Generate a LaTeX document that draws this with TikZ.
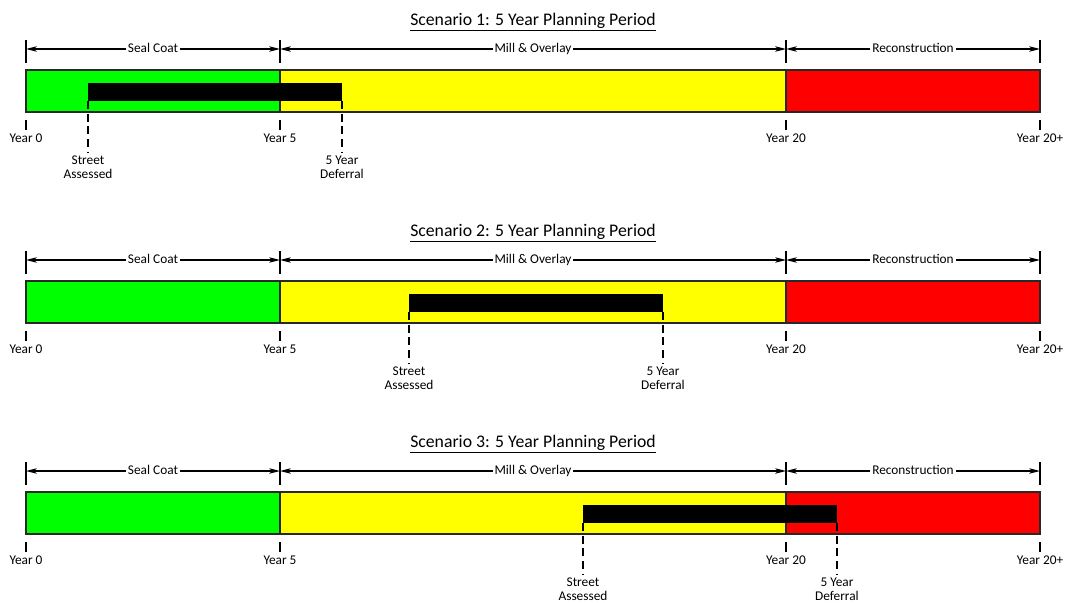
\documentclass[tikz,border=0pt]{standalone}
\usepackage{fontspec}
\setmainfont{Carlito}
\usetikzlibrary{arrows.meta}
\definecolor{sealgreen}{RGB}{0,255,0}
\definecolor{millyellow}{RGB}{255,255,0}
\definecolor{reconred}{RGB}{255,0,0}
\definecolor{outline}{RGB}{40,40,40}
\begin{document}
\begin{tikzpicture}[x=0.75pt,y=-0.75pt,
  lbl/.style={font=\fontsize{10}{10.5}\selectfont, inner sep=1pt},
  dimlbl/.style={lbl, fill=white, inner xsep=1.5pt, text height=1.5ex, text depth=0.35ex},
  ttl/.style={font=\fontsize{13.3}{14}\selectfont, inner sep=0pt},
  dim/.style={line width=1.1pt, {Stealth[length=8pt,width=4pt,inset=2pt]}-{Stealth[length=8pt,width=4pt,inset=2pt]}},
  tickline/.style={line width=1.1pt},
  seg/.style={draw=outline, line width=1.1pt},
  defer/.style={fill=black},
  dashedline/.style={line width=1pt, dash pattern=on 6pt off 3.5pt},
]
\useasboundingbox (0,0) rectangle (1067,603);
\foreach \s/\dy/\a/\b in {1/0/88/342,2/211/409/663,3/422/583/837}{
  % title
  \node[ttl, anchor=base] (title\s) at (533,25+\dy) {\underline{Scenario \s: 5 Year Planning Period}};
  % dimension ticks (top)
  \coordinate (d0-\s) at (26,49+\dy);
  \coordinate (d5-\s) at (280,49+\dy);
  \coordinate (d20-\s) at (786,49+\dy);
  \coordinate (d20p-\s) at (1040,49+\dy);
  \foreach \x in {26,280,786,1040}{
    \draw[tickline] (\x,40+\dy) -- (\x,63+\dy);
    \draw[tickline] (\x,120+\dy) -- (\x,130+\dy);
  }
  \draw[dim] (d0-\s) -- node[dimlbl] (seal\s) {Seal Coat} (d5-\s);
  \draw[dim] (d5-\s) -- node[dimlbl] (mill\s) {Mill \& Overlay} (d20-\s);
  \draw[dim] (d20-\s) -- node[dimlbl] (recon\s) {Reconstruction} (d20p-\s);
  % bar
  \draw[seg, fill=sealgreen] (26,70+\dy) rectangle (280,112+\dy);
  \draw[seg, fill=millyellow] (280,70+\dy) rectangle (786,112+\dy);
  \draw[seg, fill=reconred] (786,70+\dy) rectangle (1040,112+\dy);
  % deferral bar
  \fill[defer] (\a,83+\dy) rectangle (\b,101+\dy);
  \coordinate (sa-\s) at (\a,101+\dy);
  \coordinate (sb-\s) at (\a,152+\dy);
  \coordinate (fa-\s) at (\b,101+\dy);
  \coordinate (fb-\s) at (\b,152+\dy);
  \draw[dashedline] (sa-\s) -- (sb-\s);
  \draw[dashedline] (fa-\s) -- (fb-\s);
  % year labels
  \node[lbl, anchor=base] (y0-\s) at (26,142+\dy) {Year 0};
  \node[lbl, anchor=base] (y5-\s) at (280,142+\dy) {Year 5};
  \node[lbl, anchor=base] (y20-\s) at (786,142+\dy) {Year 20};
  \node[lbl, anchor=base] (y20p-\s) at (1040,142+\dy) {Year 20+};
  % event labels
  \node[lbl, anchor=base] (st-\s) at (\a,164+\dy) {Street};
  \node[lbl, anchor=base] (as-\s) at (\a,178+\dy) {Assessed};
  \node[lbl, anchor=base] (fy-\s) at (\b,164+\dy) {5 Year};
  \node[lbl, anchor=base] (df-\s) at (\b,178+\dy) {Deferral};
}
\end{tikzpicture}
\end{document}
